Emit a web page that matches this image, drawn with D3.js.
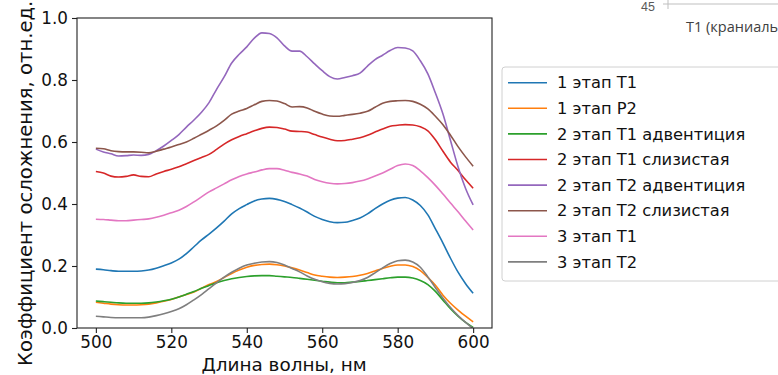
<!DOCTYPE html>
<html><head><meta charset="utf-8">
<script src="https://cdn.jsdelivr.net/npm/d3@7/dist/d3.min.js"></script>
<style>body{margin:0;background:#fff;overflow:hidden}svg{display:block}</style>
</head><body>
<script>
const wavelengths = d3.range(500, 601, 2);
const seriesNames = ["1 этап Т1","1 этап Р2","2 этап Т1 адвентиция","2 этап Т1 слизистая","2 этап Т2 адвентиция","2 этап Т2 слизистая","3 этап Т1","3 этап Т2"];
const colors = ["#1f77b4","#ff7f0e","#2ca02c","#d62728","#9467bd","#8c564b","#e377c2","#7f7f7f"];
const s1T1 = [.190,.188,.185,.183,.183,.183,.184,.187,.193,.201,.210,.222,.240,.262,.284,.303,.323,.345,.368,.385,.398,.410,.416,.418,.415,.408,.398,.387,.374,.360,.350,.343,.340,.341,.347,.355,.368,.385,.400,.412,.419,.421,.413,.395,.365,.320,.274,.225,.180,.143,.112];
const s1P2 = [.083,.080,.077,.075,.074,.074,.075,.077,.081,.086,.092,.100,.108,.116,.128,.140,.150,.163,.176,.187,.196,.202,.205,.206,.204,.200,.194,.187,.179,.171,.167,.164,.163,.164,.166,.170,.176,.184,.192,.199,.203,.203,.198,.185,.163,.138,.106,.080,.058,.038,.020];
const s2T1adv = [.087,.085,.083,.081,.080,.080,.080,.081,.084,.088,.093,.100,.109,.118,.128,.137,.146,.153,.159,.163,.166,.168,.169,.169,.167,.165,.163,.160,.157,.154,.151,.148,.146,.146,.148,.150,.153,.156,.159,.162,.164,.164,.161,.153,.140,.118,.090,.062,.038,.018,.002];
const s2T1muc = [.505,.500,.490,.487,.489,.494,.489,.488,.497,.505,.512,.520,.530,.540,.550,.560,.576,.593,.607,.618,.627,.636,.644,.648,.647,.642,.635,.634,.632,.624,.616,.609,.604,.605,.609,.614,.622,.632,.642,.651,.654,.656,.655,.649,.636,.607,.570,.535,.508,.478,.451];
const s2T2adv = [.577,.568,.562,.555,.556,.558,.557,.560,.572,.587,.605,.624,.648,.671,.696,.727,.770,.810,.855,.883,.907,.935,.952,.950,.936,.910,.893,.893,.875,.852,.830,.811,.803,.808,.814,.822,.845,.866,.880,.895,.905,.903,.894,.862,.820,.758,.690,.605,.520,.450,.397];
const s2T2muc = [.580,.578,.572,.569,.568,.568,.567,.565,.570,.577,.584,.592,.600,.612,.625,.638,.652,.670,.690,.700,.708,.720,.731,.734,.732,.724,.713,.714,.710,.699,.690,.684,.683,.686,.689,.693,.699,.712,.725,.731,.733,.734,.731,.722,.707,.683,.656,.622,.585,.552,.522];
const s3T1 = [.351,.350,.348,.346,.346,.348,.350,.352,.357,.364,.372,.380,.392,.407,.423,.439,.452,.465,.478,.489,.497,.503,.510,.514,.514,.509,.502,.497,.490,.479,.472,.467,.465,.466,.469,.474,.481,.490,.500,.512,.524,.529,.524,.507,.485,.460,.432,.403,.375,.345,.316];
const s3T2 = [.038,.036,.034,.033,.033,.033,.033,.035,.040,.046,.053,.062,.075,.091,.108,.127,.146,.164,.180,.193,.203,.209,.213,.214,.211,.203,.192,.181,.168,.157,.149,.144,.142,.143,.147,.153,.163,.178,.194,.208,.217,.219,.213,.196,.165,.130,.096,.066,.040,.018,-0.002];
const seriesValues = [s1T1,s1P2,s2T1adv,s2T1muc,s2T2adv,s2T2muc,s3T1,s3T2];
const xTicks = [500,520,540,560,580,600];
const yTicks = [0.0,0.2,0.4,0.6,0.8,1.0];
const xLabel = "Длина волны, нм";
const yLabel = "Коэффициент осложнения, отн.ед.";

const W = 778, H = 375;
const L = 77, R = 492, T = 18, B = 328;
const svg = d3.select("body").append("svg").attr("width", W).attr("height", H);
const font = "'DejaVu Sans', sans-serif";

const x = d3.scaleLinear().domain([495, 605]).range([L, R]);
const y = d3.scaleLinear().domain([0, 1]).range([B, T]);

svg.append("clipPath").attr("id","clip").append("rect").attr("x",L).attr("y",T).attr("width",R-L).attr("height",B-T);

const line = d3.line().x(d => x(d[0])).y(d => y(d[1])).curve(d3.curveMonotoneX);
const g = svg.append("g").attr("clip-path","url(#clip)");
seriesValues.forEach((vals, i) => {
  g.append("path").attr("d", line(wavelengths.map((w, j) => [w, vals[j]])))
    .attr("fill","none").attr("stroke", colors[i]).attr("stroke-width", 1.6).attr("stroke-linejoin","round");
});

// frame
svg.append("rect").attr("x",L).attr("y",T).attr("width",R-L).attr("height",B-T)
  .attr("fill","none").attr("stroke","#222").attr("stroke-width",1.1);

const xAxis = svg.append("g").attr("transform",`translate(0,${B})`)
  .call(d3.axisBottom(x).tickValues(xTicks).tickSize(5).tickPadding(3).tickFormat(d3.format("d")));
const yAxis = svg.append("g").attr("transform",`translate(${L},0)`)
  .call(d3.axisLeft(y).tickValues(yTicks).tickSize(5).tickPadding(4).tickFormat(d3.format(".1f")));
[xAxis, yAxis].forEach(a => {
  a.select(".domain").remove();
  a.selectAll("line").attr("stroke","#222").attr("stroke-width",1.1);
  a.selectAll("text").attr("font-family",font).attr("font-size",16.8).attr("fill","#111");
});

svg.append("text").attr("x",284).attr("y",371).attr("text-anchor","middle")
  .attr("font-family",font).attr("font-size",18.4).attr("fill","#111").text(xLabel);
svg.append("text").attr("transform",`translate(32,366) rotate(-90)`).attr("text-anchor","start")
  .attr("font-family",font).attr("font-size",19.6).attr("fill","#111").text(yLabel);

// legend
const lg = svg.append("g");
lg.append("rect").attr("x",502).attr("y",67).attr("width",290).attr("height",214).attr("rx",3)
  .attr("fill","#fff").attr("fill-opacity",0.8).attr("stroke","#d0d0d0").attr("stroke-width",1);
seriesNames.forEach((n, i) => {
  const yy = 82.7 + i * 25.6;
  lg.append("line").attr("x1",508).attr("x2",547).attr("y1",yy).attr("y2",yy)
    .attr("stroke",colors[i]).attr("stroke-width",1.6);
  lg.append("text").attr("x",557).attr("y",yy).attr("dy","0.35em")
    .attr("font-family",font).attr("font-size",16.3).attr("fill","#111").text(n);
});

// fragment of neighbouring chart (top right)
svg.append("text").attr("x",655).attr("y",11).attr("text-anchor","end")
  .attr("font-family","'Liberation Sans', sans-serif").attr("font-size",12.5).attr("fill","#595959").text("45");
svg.append("line").attr("x1",663).attr("x2",778).attr("y1",4).attr("y2",4).attr("stroke","#bfbfbf").attr("stroke-width",1);
svg.append("line").attr("x1",668).attr("x2",668).attr("y1",0).attr("y2",9).attr("stroke","#bfbfbf").attr("stroke-width",1);
svg.append("text").attr("x",686).attr("y",32)
  .attr("font-family","'Open Sans', sans-serif").attr("font-size",14.5).attr("fill","#404040").text("T1 (краниаль");
</script>
</body></html>
